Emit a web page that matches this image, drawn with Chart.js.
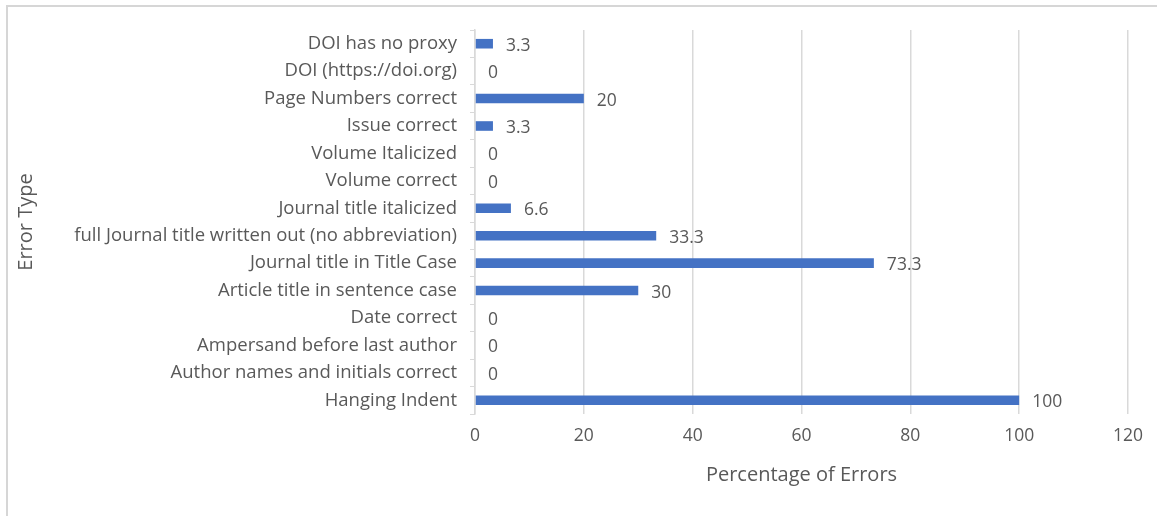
<!DOCTYPE html>
<html>
<head>
<meta charset="utf-8">
<script src="https://cdn.jsdelivr.net/npm/chart.js@4"></script>
<style>
  html, body { margin: 0; padding: 0; background: #fff; overflow: hidden; }
  #frame {
    position: absolute; left: 6px; top: 5px; width: 1200px; height: 600px;
    border-top: 2px solid #d6d6d6; border-left: 2px solid #d6d6d6;
  }
  canvas { position: absolute; left: 0; top: 0; }
</style>
</head>
<body>
<div id="frame"></div>
<canvas id="chart" width="1157" height="516"></canvas>
<script>
// Categorías (de arriba hacia abajo)
const categories = [
  "DOI has no proxy",
  "DOI (https://doi.org)",
  "Page Numbers correct",
  "Issue correct",
  "Volume Italicized",
  "Volume correct",
  "Journal title italicized",
  "full Journal title written out (no abbreviation)",
  "Journal title in Title Case",
  "Article title in sentence case",
  "Date correct",
  "Ampersand before last author",
  "Author names and initials correct",
  "Hanging Indent"
];
const errorValues = [3.3, 0, 20, 3.3, 0, 0, 6.6, 33.3, 73.3, 30, 0, 0, 0, 100];
const labelValues = ["3.3", "0", "20", "3.3", "0", "0", "6.6", "33.3", "73.3", "30", "0", "0", "0", "100"];
const xTicks = [0, 20, 40, 60, 80, 100, 120];

const textColor = "#595959";
const gridColor = "#d9d9d9";
const fontFamily = "'Open Sans', Lato, sans-serif";

// Etiquetas de valor al final de cada barra
const valueLabels = {
  id: "valueLabels",
  afterDatasetsDraw(chart) {
    const ctx = chart.ctx;
    const meta = chart.getDatasetMeta(0);
    ctx.save();
    ctx.fillStyle = textColor;
    ctx.font = "17.5px " + fontFamily;
    ctx.textAlign = "left";
    ctx.textBaseline = "middle";
    meta.data.forEach((bar, i) => {
      ctx.fillText(labelValues[i], bar.x + 13, bar.y + 2);
    });
    ctx.restore();
  }
};

const ctx = document.getElementById("chart").getContext("2d");
new Chart(ctx, {
  type: "bar",
  data: {
    labels: categories,
    datasets: [{
      data: errorValues,
      backgroundColor: "#4472C4",
      barPercentage: 0.35,
      categoryPercentage: 1
    }]
  },
  options: {
    indexAxis: "y",
    responsive: false,
    animation: false,
    layout: { padding: { top: 30, right: 29, left: 14, bottom: 29 } },
    plugins: {
      legend: { display: false },
      tooltip: { enabled: false }
    },
    scales: {
      x: {
        min: 0,
        max: 120,
        afterBuildTicks: scale => { scale.ticks = xTicks.map(v => ({ value: v })); },
        afterFit: scale => { scale.height = 73; },
        grid: { color: gridColor, lineWidth: 1.5, drawTicks: false },
        border: { display: false },
        ticks: { color: textColor, font: { family: fontFamily, size: 17.5 }, padding: 12 },
        title: {
          display: true,
          text: "Percentage of Errors",
          color: textColor,
          font: { family: fontFamily, size: 20 },
          padding: 0
        }
      },
      y: {
        afterFit: scale => { scale.width = 475 - 14; },
        grid: { drawOnChartArea: false, color: gridColor, tickLength: 5, offset: true },
        border: { display: true, color: gridColor, width: 1.5 },
        ticks: { color: textColor, font: { family: fontFamily, size: 18.5 }, padding: 13, autoSkip: false },
        title: {
          display: true,
          text: "Error Type",
          color: textColor,
          font: { family: fontFamily, size: 20 },
          padding: 0
        }
      }
    }
  },
  plugins: [valueLabels]
});
</script>
</body>
</html>
